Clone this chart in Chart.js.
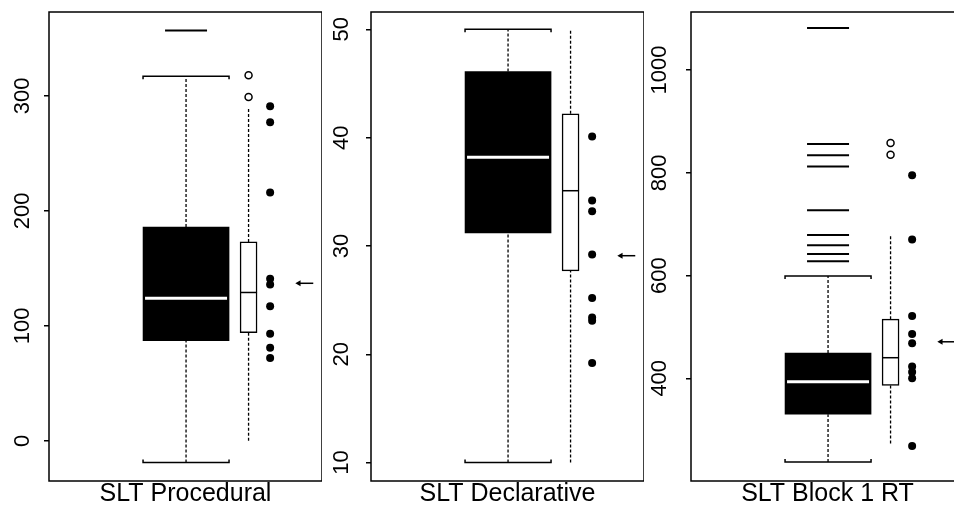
<!DOCTYPE html>
<html>
<head>
<meta charset="utf-8">
<script src="https://cdn.jsdelivr.net/npm/chart.js@4.4.0/dist/chart.umd.min.js"></script>
<style>
  html, body { margin: 0; padding: 0; background: #fff; overflow: hidden; }
  #wrap { position: relative; width: 954px; height: 508px; overflow: hidden; }
  canvas { position: absolute; top: 0; }
</style>
</head>
<body>
<div id="wrap">
  <canvas id="c1" width="322" height="508" style="left:0px"></canvas>
  <canvas id="c2" width="322" height="508" style="left:322px"></canvas>
  <canvas id="c3" width="322" height="508" style="left:642px"></canvas>
</div>
<script>
const titles = ["SLT Procedural", "SLT Declarative", "SLT Block 1 RT"];

// box values: lower whisker, q1, median, q3, upper whisker
const ticks1 = [0, 100, 200, 300];
const range1 = [-35, 373];
const bigBox1 = [-19, 87, 124, 186, 317];
const bigOut1 = [357];
const smallBox1 = [0, 94, 129, 173, 290];
const smallOut1 = [299, 318];
const dots1 = [291, 277, 216, 141, 136, 117, 93, 81, 72];
const arrow1 = 137;

const ticks2 = [10, 20, 30, 40, 50];
const range2 = [8.3, 51.6];
const bigBox2 = [10, 31.2, 38.2, 46.1, 50];
const bigOut2 = [];
const smallBox2 = [10, 27.7, 35.1, 42.2, 50];
const smallOut2 = [];
const dots2 = [40.1, 34.2, 33.2, 29.2, 25.2, 23.4, 23.1, 19.2];
const arrow2 = 29.1;

const ticks3 = [400, 600, 800, 1000];
const range3 = [200, 1113];
const bigBox3 = [237, 330, 393, 449, 599];
const bigOut3 = [1082, 856, 834, 812, 727, 679, 659, 642, 628];
const smallBox3 = [273, 386, 440, 515, 680];
const smallOut3 = [858, 835];
const dots3 = [795, 670, 521, 486, 468, 423, 412, 400, 268];
const arrow3 = 471;

// layout
const FRAME_W = 273, PLOT_H = 469, AXIS_W = 49, TOP = 12, BOTTOM_GAP = 27;
const BIG_X = 0.502, SMALL_X = 0.731, DOT_X = 0.81, ARROW_X0 = 0.915, ARROW_X1 = 0.968;
const BIG_W = 86, SMALL_W = 17;

Chart.defaults.font.family = "'Liberation Sans', Arial, Helvetica, sans-serif";
Chart.defaults.color = "#000";

const framePlugin = {
  id: "frame",
  afterDraw(chart) {
    const { ctx, chartArea: a } = chart;
    ctx.save();
    ctx.strokeStyle = "#000";
    ctx.lineWidth = 1.5;
    ctx.strokeRect(a.left, a.top, a.right - a.left, a.bottom - a.top);
    ctx.restore();
  },
};

function buildDatasets(range, big, bigOut, small, smallOut, dots, arrow) {
  const bh = BIG_W / 2 / FRAME_W;
  const drop = (range[1] - range[0]) * 3 / PLOT_H;
  const whisker = (x, a, b) => ({
    type: "line", data: [{ x, y: a }, { x, y: b }],
    borderColor: "#000", borderWidth: 1.3, borderDash: [3, 2], pointRadius: 0,
  });
  const cap = (v, d) => ({
    type: "line",
    data: [{ x: BIG_X - bh, y: v + d }, { x: BIG_X - bh, y: v }, { x: BIG_X + bh, y: v }, { x: BIG_X + bh, y: v + d }],
    borderColor: "#000", borderWidth: 1.5, pointRadius: 0,
  });
  // first dataset is drawn on top
  return [
    {
      type: "scatter", data: [{ x: BIG_X, y: big[2] }],
      pointStyle: "line", pointRadius: 41, pointBorderColor: "#fff", pointBorderWidth: 3,
    },
    {
      type: "scatter", data: [{ x: SMALL_X, y: small[2] }],
      pointStyle: "line", pointRadius: 8.5, pointBorderColor: "#000", pointBorderWidth: 1.5,
    },
    {
      type: "scatter", data: bigOut.map((v) => ({ x: BIG_X, y: v })),
      pointStyle: "line", pointRadius: 21, pointBorderColor: "#000", pointBorderWidth: 2,
    },
    {
      type: "scatter", data: smallOut.map((v) => ({ x: SMALL_X, y: v })),
      pointStyle: "circle", pointRadius: 3.5, pointBackgroundColor: "#fff",
      pointBorderColor: "#000", pointBorderWidth: 1.5,
    },
    {
      type: "scatter", data: dots.map((v) => ({ x: DOT_X, y: v })),
      pointStyle: "circle", pointRadius: 4, pointBackgroundColor: "#000",
      pointBorderColor: "#000", pointBorderWidth: 0,
    },
    {
      type: "line", data: [{ x: ARROW_X0, y: arrow }, { x: ARROW_X1, y: arrow }],
      borderColor: "#000", borderWidth: 1.5,
      pointStyle: "triangle", pointRotation: 270, pointRadius: [3.5, 0],
      pointBackgroundColor: "#000", pointBorderColor: "#000", pointBorderWidth: 0,
    },
    {
      type: "bar", data: [{ x: BIG_X, y: [big[1], big[3]] }],
      backgroundColor: "#000", borderWidth: 0, barThickness: BIG_W, grouped: false,
    },
    {
      type: "bar", data: [{ x: SMALL_X, y: [small[1], small[3]] }],
      backgroundColor: "#fff", borderColor: "#000", borderWidth: 1.5, borderSkipped: false,
      barThickness: SMALL_W, grouped: false,
    },
    whisker(BIG_X, big[0], big[1]),
    whisker(BIG_X, big[3], big[4]),
    whisker(SMALL_X, small[0], small[1]),
    whisker(SMALL_X, small[3], small[4]),
    cap(big[0], drop),
    cap(big[4], -drop),
  ];
}

function makePanel(id, title, ticks, range, labelPad, datasets) {
  new Chart(document.getElementById(id), {
    type: "scatter",
    data: { datasets },
    plugins: [framePlugin],
    options: {
      responsive: false,
      animation: false,
      events: [],
      layout: { autoPadding: false, padding: { top: TOP, left: 0, right: 0, bottom: 0 } },
      plugins: { legend: { display: false }, tooltip: { enabled: false } },
      scales: {
        x: {
          type: "linear", min: 0, max: 1, offset: false,
          ticks: { display: false },
          grid: { display: false },
          border: { display: false },
          title: {
            display: true, text: title, color: "#000", padding: 0,
            font: { size: 25, lineHeight: 1.1 },
          },
          afterFit: (s) => { s.height = BOTTOM_GAP; s.paddingLeft = 0; s.paddingRight = 0; },
        },
        y: {
          type: "linear", min: range[0], max: range[1],
          afterBuildTicks: (s) => { s.ticks = ticks.map((v) => ({ value: v })); },
          ticks: {
            color: "#000", font: { size: 22 }, minRotation: 90, maxRotation: 90,
            crossAlign: "center", padding: labelPad, callback: (v) => String(v),
          },
          grid: { drawOnChartArea: false, drawTicks: true, tickLength: 5, color: "#000", lineWidth: 1.5 },
          border: { display: false },
          afterFit: (s) => { s.width = AXIS_W; s.paddingTop = 0; s.paddingBottom = 0; },
        },
      },
    },
  });
}

makePanel("c1", titles[0], ticks1, range1, 3,
  buildDatasets(range1, bigBox1, bigOut1, smallBox1, smallOut1, dots1, arrow1));
makePanel("c2", titles[1], ticks2, range2, 12,
  buildDatasets(range2, bigBox2, bigOut2, smallBox2, smallOut2, dots2, arrow2));
makePanel("c3", titles[2], ticks3, range3, 1.5,
  buildDatasets(range3, bigBox3, bigOut3, smallBox3, smallOut3, dots3, arrow3));
</script>
</body>
</html>
